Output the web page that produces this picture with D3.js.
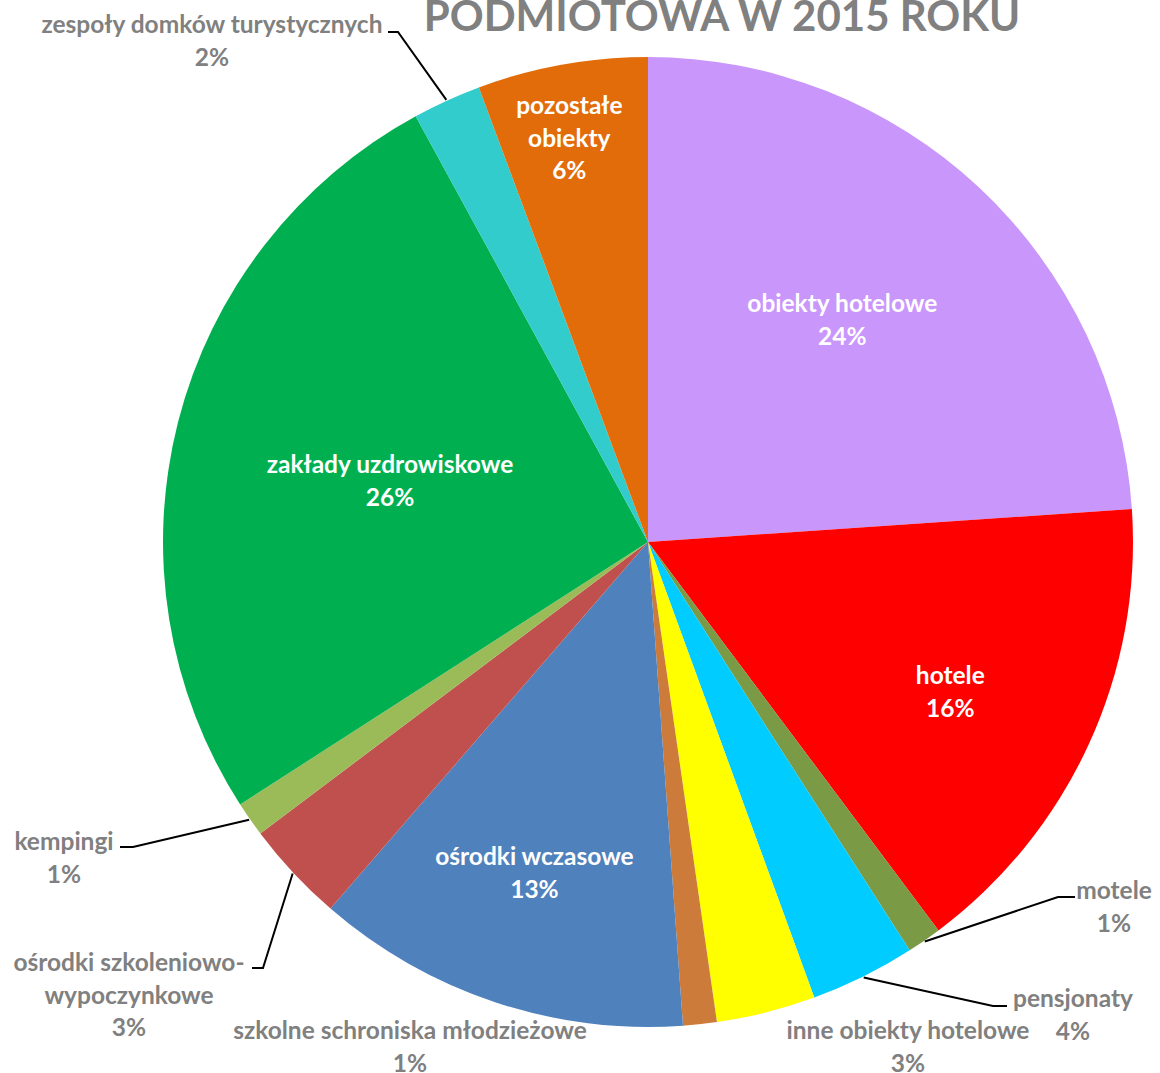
<!DOCTYPE html>
<html>
<head>
<meta charset="utf-8">
<script src="https://cdn.jsdelivr.net/npm/d3@7"></script>
<style>
  html, body { margin: 0; padding: 0; background: #ffffff; }
  svg { display: block; }
  text { font-family: Lato, "Open Sans", sans-serif; font-weight: 700; }
</style>
</head>
<body>
<svg id="chart" width="1160" height="1073"></svg>
<script>
// Accommodation types and their share of establishments (percent), clockwise from 12 o'clock
const categories = [
  "obiekty hotelowe", "hotele", "motele", "pensjonaty", "inne obiekty hotelowe",
  "szkolne schroniska młodzieżowe", "ośrodki wczasowe", "ośrodki szkoleniowo-wypoczynkowe",
  "kempingi", "zakłady uzdrowiskowe", "zespoły domków turystycznych", "pozostałe obiekty"
];
const shares = [23.92, 15.86, 1.15, 3.5, 3.3, 1.12, 12.51, 3.38, 1.16, 26.15, 2.28, 5.67];
const percentLabels = ["24%", "16%", "1%", "4%", "3%", "1%", "13%", "3%", "1%", "26%", "2%", "6%"];
const sliceColors = [
  "#C996FB", "#FF0000", "#7A9A45", "#00CCFF", "#FFFF00", "#CC7B3A",
  "#4F81BD", "#C0504D", "#9BBB59", "#00B050", "#33CCCC", "#E36C0A"
];
const titleText = "PODMIOTOWA W 2015 ROKU";

const svg = d3.select("#chart");
const cx = 648, cy = 542, R = 485;
const lineH = 32.5;
const labelSize = 24.5;

const pie = d3.pie().sort(null).value(d => d);
const arcs = pie(shares);
const arc = d3.arc().innerRadius(0).outerRadius(R);

const g = svg.append("g").attr("transform", `translate(${cx},${cy})`);
g.selectAll("path.slice")
  .data(arcs)
  .join("path")
  .attr("class", "slice")
  .attr("d", arc)
  .attr("fill", (d, i) => sliceColors[i]);

// label text lines per slice (category name may wrap)
const nameLines = {
  "pozostałe obiekty": ["pozostałe", "obiekty"],
  "ośrodki szkoleniowo-wypoczynkowe": ["ośrodki szkoleniowo-", "wypoczynkowe"]
};
function linesFor(i) {
  const name = categories[i];
  return (nameLines[name] || [name]).concat([percentLabels[i]]);
}

// Labels placed inside slices: radius fraction and small angular nudge (degrees)
const insideLabels = [
  { i: 0, k: 0.61, da: -2.0 },
  { i: 1, k: 0.695, da: 1.6 },
  { i: 6, k: 0.72, da: 0.6 },
  { i: 9, k: 0.547, da: -0.8 },
  { i: 11, k: 0.85, da: -0.8 }
];

function polar(angle, r) {
  return [Math.sin(angle) * r, -Math.cos(angle) * r];
}

insideLabels.forEach(L => {
  const a = arcs[L.i];
  const mid = (a.startAngle + a.endAngle) / 2 + L.da * Math.PI / 180;
  const [x, y] = polar(mid, R * L.k);
  const lines = linesFor(L.i);
  const t = g.append("text")
    .attr("text-anchor", "middle")
    .attr("fill", "#ffffff")
    .attr("font-size", labelSize);
  lines.forEach((s, j) => {
    t.append("tspan")
      .attr("x", x)
      .attr("y", y + (j - (lines.length - 1) / 2) * lineH)
      .attr("dominant-baseline", "central")
      .text(s);
  });
});

// Labels outside the pie with leader lines: label centre (page coords) and elbow of the leader
const outsideLabels = [
  { i: 2, x: 1114, y: 906, elbow: [1058, 897], tail: [1075, 897] },
  { i: 3, x: 1073, y: 1014, elbow: [993, 1006], tail: [1007, 1006] },
  { i: 4, x: 908, y: 1046, elbow: null },
  { i: 5, x: 410, y: 1046, elbow: null },
  { i: 7, x: 129, y: 994, elbow: [263, 968], tail: [252, 968] },
  { i: 8, x: 64, y: 857, elbow: [133, 847], tail: [120, 847] },
  { i: 10, x: 212, y: 40, elbow: [398, 32], tail: [388, 32] }
];

outsideLabels.forEach(L => {
  const a = arcs[L.i];
  const mid = (a.startAngle + a.endAngle) / 2;
  if (L.elbow) {
    const [px, py] = polar(mid, R + 1);
    svg.append("path")
      .attr("d", d3.line()([[cx + px, cy + py], L.elbow, L.tail]))
      .attr("fill", "none")
      .attr("stroke", "#000000")
      .attr("stroke-width", 2);
  }
  const lines = linesFor(L.i);
  const t = svg.append("text")
    .attr("text-anchor", "middle")
    .attr("fill", "#808080")
    .attr("font-size", labelSize);
  lines.forEach((s, j) => {
    t.append("tspan")
      .attr("x", L.x)
      .attr("y", L.y + (j - (lines.length - 1) / 2) * lineH)
      .attr("dominant-baseline", "central")
      .text(s);
  });
});

// Title (only its last line falls inside the frame)
svg.append("text")
  .attr("x", 722)
  .attr("y", 31)
  .attr("text-anchor", "middle")
  .attr("fill", "#808080")
  .attr("font-size", 42)
  .text(titleText);
</script>
</body>
</html>
